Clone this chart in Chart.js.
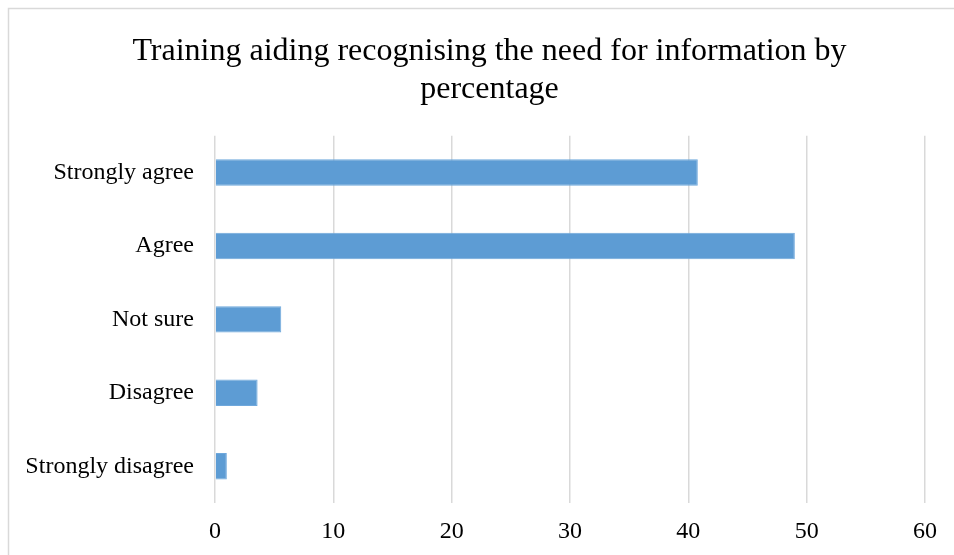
<!DOCTYPE html>
<html>
<head>
<meta charset="utf-8">
<title>Training aiding recognising the need for information</title>
<script src="https://cdn.jsdelivr.net/npm/chart.js@4/dist/chart.umd.min.js"></script>
<style>
    html, body { margin: 0; padding: 0; background: #fff; overflow: hidden; }
    #chart { display: block; }
</style>
</head>
<body>
<canvas id="chart" width="954" height="555"></canvas>
<script>
(() => {
    const categories = ["Strongly agree", "Agree", "Not sure", "Disagree", "Strongly disagree"];
    const percentages = [40.8, 49.0, 5.6, 3.6, 1.0];
    const axisMin = 0;
    const axisMax = 60;
    const axisStep = 10;
    const titleLines = ["Training aiding recognising the need for information by", "percentage"];

    const serif = "'Liberation Serif', 'Times New Roman', serif";
    const gridColour = "#d9d9d9";

    // light frame round the whole chart, cut off by the right and bottom edges
    const framePlugin = {
        id: "frame",
        beforeDraw(chart) {
            const ctx = chart.ctx;
            ctx.save();
            ctx.strokeStyle = gridColour;
            ctx.lineWidth = 1.5;
            ctx.strokeRect(8.5, 8.5, chart.width + 20, chart.height + 20);
            ctx.restore();
        }
    };

    // the frame runs past the right edge, so centre the title on it instead of the canvas
    const titleShiftPlugin = {
        id: "titleShift",
        afterLayout(chart) {
            const title = chart.titleBlock;
            if (title) {
                title.left += 12;
                title.right += 12;
            }
        }
    };

    const canvas = document.getElementById("chart");
    new Chart(canvas, {
        type: "bar",
        data: {
            labels: categories,
            datasets: [{
                data: percentages,
                backgroundColor: "#5d9cd4",
                borderColor: "#6fa8dc",
                borderWidth: 1,
                barPercentage: 0.36,
                categoryPercentage: 1
            }]
        },
        options: {
            indexAxis: "y",
            responsive: false,
            animation: false,
            devicePixelRatio: 1,
            layout: {
                padding: { top: 0, left: 27, right: 26, bottom: 0 }
            },
            plugins: {
                legend: { display: false },
                tooltip: { enabled: false },
                title: {
                    display: true,
                    text: titleLines,
                    color: "#000",
                    font: { family: serif, size: 32, weight: "normal", lineHeight: 1.2 },
                    padding: { top: 32, bottom: 27 }
                }
            },
            scales: {
                x: {
                    min: axisMin,
                    max: axisMax,
                    grid: {
                        color: gridColour,
                        lineWidth: 1.5,
                        drawTicks: false
                    },
                    border: { display: false },
                    ticks: {
                        stepSize: axisStep,
                        color: "#000",
                        padding: 17,
                        font: { family: serif, size: 24, lineHeight: 1 }
                    },
                    afterFit(scale) {
                        scale.height = 52;
                    }
                },
                y: {
                    grid: { display: false, drawTicks: false },
                    border: { display: false },
                    ticks: {
                        color: "#000",
                        padding: 21,
                        font: { family: serif, size: 24 }
                    },
                    afterFit(scale) {
                        scale.width = 188;
                    }
                }
            }
        },
        plugins: [framePlugin, titleShiftPlugin]
    });
})();
</script>
</body>
</html>
